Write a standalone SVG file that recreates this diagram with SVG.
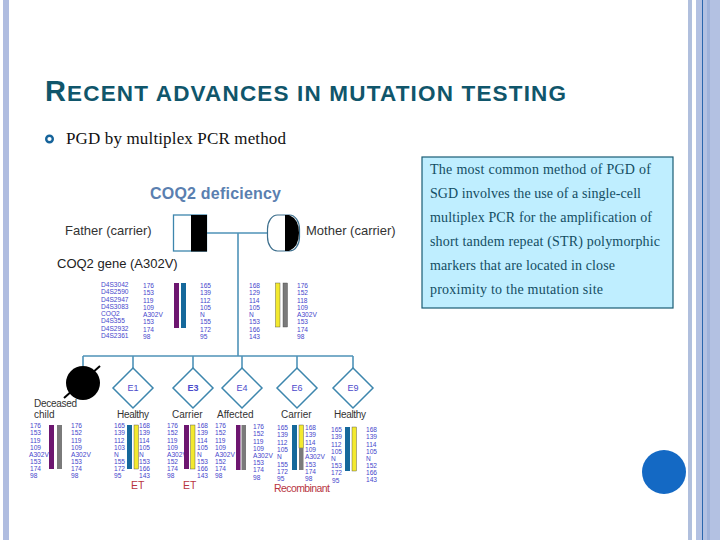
<svg xmlns="http://www.w3.org/2000/svg" width="720" height="540" viewBox="0 0 720 540">
<style>
.sans{font-family:"Liberation Sans",Arial,sans-serif}
.serif{font-family:"Liberation Serif","Times New Roman",serif}
.title{fill:#10566b;font-weight:700;font-size:22.5px}
.body{fill:#111;font-size:17px}
.box{fill:#134d63;font-size:14px}
.lab{fill:#333;font-size:13px}
.m{fill:#4646cc;font-size:6.6px}
.ped{fill:none;stroke:#4f93b8;stroke-width:1.6}
.d{fill:#fff;stroke:#3d86ad;stroke-width:1.5}
.e{fill:#4a4acb;font-size:9px;text-anchor:middle}
.red{fill:#b8353f;font-size:10.5px}
.bar{stroke:#444;stroke-width:.4}
.pu{fill:#6d1670}.bl{fill:#15689b}.ye{fill:#f3e92e}.gr{fill:#7a7a7a}
</style>
<rect width="720" height="540" fill="#fff"/>
<g id="frame">
<rect x="3" width="6" height="540" fill="#b0bde0"/>
<rect x="688" width="4" height="540" fill="#b0bfdd"/>
<rect x="696" width="24" height="540" fill="#b3c1e2"/>
<rect x="707" width="3" height="540" fill="#9fb2da"/>
<rect x="702" width="1" height="540" fill="#2a66ad"/>
</g>
<g id="title"><text class="sans title" x="45" y="101" textLength="521"><tspan font-size="29">R</tspan>ECENT ADVANCES IN MUTATION TESTING</text></g>
<g id="bullet"><circle cx="49.500" cy="139" r="3.300" fill="none" stroke="#15639a" stroke-width="2.400"/>
<text class="serif body" x="66" y="144" textLength="220">PGD by multiplex PCR method</text></g>
<g id="textbox"><rect x="422" y="157" width="251" height="151" fill="#bfeeff" stroke="#1a5c74" stroke-width="1.200"/>
<text class="serif box" x="430" y="174" textLength="221">The most common method of PGD of</text>
<text class="serif box" x="430" y="198" textLength="211">SGD involves the use of a single-cell</text>
<text class="serif box" x="430" y="222" textLength="222">multiplex PCR for the amplification of</text>
<text class="serif box" x="430" y="246" textLength="230">short tandem repeat (STR) polymorphic</text>
<text class="serif box" x="430" y="270" textLength="185">markers that are located in close</text>
<text class="serif box" x="430" y="294" textLength="173">proximity to the mutation site</text></g>
<g id="circle"><circle cx="664" cy="472" r="22" fill="#1469c4"/></g>
<text class="sans" x="150" y="199" font-size="16" font-weight="700" fill="#5a7fb0" textLength="131">COQ2 deficiency</text>
<g id="connectors" class="ped">
<path d="M207 233H267M238 233V356M83 356H353M83 356V366M133 356V368M193 356V368M242 356V368M297 356V368M353 356V368"/>
</g>
<g id="father"><rect x="173.500" y="215" width="33" height="36" fill="#fff" stroke="#3d86ad" stroke-width="1.300"/><rect x="191" y="215" width="16" height="36.500" fill="#000"/>
<text class="sans lab" x="65" y="235">Father (carrier)</text></g>
<g id="mother"><rect x="267.500" y="215" width="32" height="36" rx="10" ry="14" fill="#fff" stroke="#3d6f8d" stroke-width="1.200"/><path d="M285 215h4q10 4 10 18t-10 18h-4z" fill="#000"/>
<text class="sans lab" x="306" y="235">Mother (carrier)</text></g>
<text class="sans" x="57" y="268" font-size="13" fill="#222">COQ2 gene (A302V)</text>
<g id="father-markers" class="sans m">
<text x="101" y="287">D4S3042</text><text x="101" y="294">D4S2590</text><text x="101" y="302">D4S2947</text><text x="101" y="309">D4S3083</text><text x="101" y="316">COQ2</text><text x="101" y="323">D4S355</text><text x="101" y="331">D4S2932</text><text x="101" y="338">D4S2361</text>
<text x="143" y="288">176</text><text x="143" y="295">153</text><text x="143" y="303">119</text><text x="143" y="310">109</text><text x="143" y="317">A302V</text><text x="143" y="324">153</text><text x="143" y="332">174</text><text x="143" y="339">98</text>
<text x="200" y="288">165</text><text x="200" y="295">139</text><text x="200" y="303">112</text><text x="200" y="310">105</text><text x="200" y="317">N</text><text x="200" y="324">155</text><text x="200" y="332">172</text><text x="200" y="339">95</text>
<rect class="pu" x="174" y="283" width="5" height="45"/><rect class="bl" x="181" y="283" width="5" height="45"/>
</g>
<g id="mother-markers" class="sans m">
<text x="249" y="288">168</text><text x="249" y="295">129</text><text x="249" y="303">114</text><text x="249" y="310">105</text><text x="249" y="317">N</text><text x="249" y="324">153</text><text x="249" y="332">166</text><text x="249" y="339">143</text>
<text x="297" y="288">176</text><text x="297" y="295">152</text><text x="297" y="303">118</text><text x="297" y="310">109</text><text x="297" y="317">A302V</text><text x="297" y="324">153</text><text x="297" y="332">174</text><text x="297" y="339">98</text>
<rect class="ye bar" x="275.500" y="283" width="4.500" height="44"/><rect class="gr bar" x="283" y="283" width="4.500" height="44"/>
</g>
<g id="deceased"><circle cx="83" cy="383" r="17" fill="#000"/><path d="M64 398L100 366" stroke="#000" stroke-width="2"/>
<text class="sans" x="34" y="407" font-size="10" fill="#333" textLength="43">Deceased</text><text class="sans" x="34" y="418" font-size="10" fill="#333">child</text>
<g class="sans m"><text x="30" y="428">176</text><text x="30" y="435">153</text><text x="30" y="443">119</text><text x="30" y="450">109</text><text x="29" y="457">A302V</text><text x="30" y="464">153</text><text x="30" y="471">174</text><text x="30" y="478">98</text>
<text x="71" y="428">176</text><text x="71" y="435">152</text><text x="71" y="443">119</text><text x="71" y="450">109</text><text x="71" y="457">A302V</text><text x="71" y="464">153</text><text x="71" y="471">174</text><text x="71" y="478">98</text></g>
<rect class="pu" x="49" y="425" width="5" height="44"/><rect class="gr" x="57" y="425" width="5" height="44"/></g>
<g id="E1"><path class="d" d="M133 368L153 388L133 408L113 388Z"/><text class="sans e" x="133" y="391">E1</text>
<text class="sans" x="117" y="418" font-size="10" fill="#333" textLength="32">Healthy</text>
<g class="sans m"><text x="114" y="428">165</text><text x="114" y="435">139</text><text x="114" y="443">112</text><text x="114" y="450">103</text><text x="114" y="457">N</text><text x="114" y="464">155</text><text x="114" y="471">172</text><text x="114" y="478">95</text>
<text x="139" y="428">168</text><text x="139" y="435">139</text><text x="139" y="443">114</text><text x="139" y="450">105</text><text x="139" y="457">N</text><text x="139" y="464">153</text><text x="139" y="471">166</text><text x="139" y="478">143</text></g>
<rect class="bl" x="127" y="425" width="5" height="44"/><rect class="ye bar" x="134" y="425" width="4.500" height="44"/>
<text class="sans red" x="131" y="488.500">ET</text></g>
<g id="E3"><path class="d" d="M193 368L213 388L193 408L173 388Z"/><text class="sans e" x="193" y="391" font-weight="700">E3</text>
<text class="sans" x="172" y="418" font-size="10" fill="#333">Carrier</text>
<g class="sans m"><text x="167" y="428">176</text><text x="167" y="435">152</text><text x="167" y="443">119</text><text x="167" y="450">109</text><text x="167" y="457">A302V</text><text x="167" y="464">152</text><text x="167" y="471">174</text><text x="167" y="478">98</text>
<text x="197" y="428">168</text><text x="197" y="435">139</text><text x="197" y="443">114</text><text x="197" y="450">105</text><text x="197" y="457">N</text><text x="197" y="464">153</text><text x="197" y="471">166</text><text x="197" y="478">143</text></g>
<rect class="pu" x="184" y="425" width="5" height="44"/><rect class="ye bar" x="190.500" y="425" width="4.500" height="44"/>
<text class="sans red" x="183" y="488.500">ET</text></g>
<g id="E4"><path class="d" d="M242 368L262 388L242 408L222 388Z"/><text class="sans e" x="242" y="391">E4</text>
<text class="sans" x="217" y="418" font-size="10" fill="#333">Affected</text>
<g class="sans m"><text x="215" y="428">176</text><text x="215" y="435">152</text><text x="215" y="443">119</text><text x="215" y="450">109</text><text x="215" y="457">A302V</text><text x="215" y="464">152</text><text x="215" y="471">174</text><text x="215" y="478">98</text>
<text x="253" y="429">176</text><text x="253" y="436">152</text><text x="253" y="444">119</text><text x="253" y="451">109</text><text x="253" y="458">A302V</text><text x="253" y="465">153</text><text x="253" y="472">174</text><text x="253" y="480">98</text></g>
<rect class="pu" x="236" y="425" width="4.500" height="45"/><rect class="gr" x="241.500" y="425" width="4.500" height="45"/></g>
<g id="E6"><path class="d" d="M297 368L317 388L297 408L277 388Z"/><text class="sans e" x="297" y="391">E6</text>
<text class="sans" x="281" y="418" font-size="10" fill="#333">Carrier</text>
<g class="sans m"><text x="277" y="430">165</text><text x="277" y="437">139</text><text x="277" y="445">112</text><text x="277" y="452">105</text><text x="277" y="459">N</text><text x="277" y="467">155</text><text x="277" y="474">172</text><text x="277" y="481">95</text>
<text x="305" y="430">168</text><text x="305" y="437">139</text><text x="305" y="445">114</text><text x="305" y="452">109</text><text x="305" y="459">A302V</text><text x="305" y="467">153</text><text x="305" y="474">174</text><text x="305" y="481">98</text></g>
<rect class="bl" x="292" y="425" width="5" height="45"/><rect class="ye bar" x="299" y="425" width="4.500" height="23"/><rect class="gr" x="299" y="448" width="4.500" height="22"/>
<text class="sans red" x="274" y="491.500" textLength="56">Recombinant</text></g>
<g id="E9"><path class="d" d="M353 368L373 388L353 408L333 388Z"/><text class="sans e" x="353" y="391">E9</text>
<text class="sans" x="334" y="418" font-size="10" fill="#333" textLength="32">Healthy</text>
<g class="sans m"><text x="331" y="432">165</text><text x="331" y="439">139</text><text x="331" y="447">112</text><text x="331" y="454">105</text><text x="331" y="461">N</text><text x="331" y="468">153</text><text x="331" y="475">172</text><text x="332" y="483">95</text>
<text x="366" y="432">168</text><text x="366" y="439">139</text><text x="366" y="447">114</text><text x="366" y="454">105</text><text x="366" y="461">N</text><text x="366" y="468">152</text><text x="366" y="475">166</text><text x="366" y="482">143</text></g>
<rect class="bl" x="345" y="427" width="5" height="44"/><rect class="ye bar" x="352" y="427" width="4.500" height="44"/></g>
</svg>
